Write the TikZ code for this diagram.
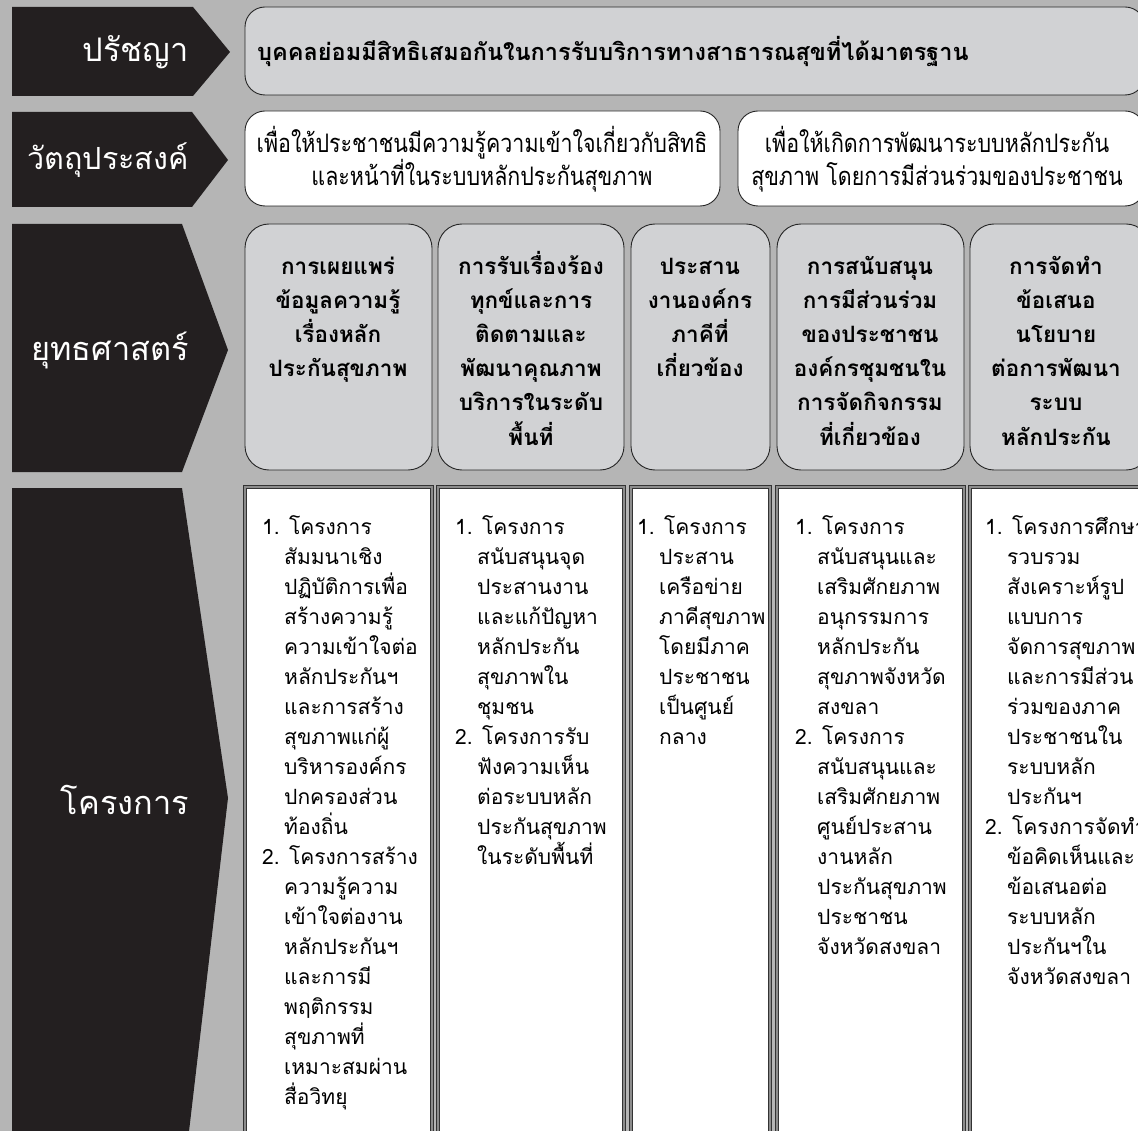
\documentclass[tikz,border=0pt]{standalone}
\usepackage{fontspec}
\setmainfont[Script=Thai]{Loma}
\newfontfamily\narrowthai[Script=Thai,FakeStretch=0.84]{Loma}
\usetikzlibrary{positioning}

\definecolor{tagblack}{HTML}{231F20}
\definecolor{paper}{HTML}{B5B5B5}
\definecolor{panelgray}{HTML}{D1D2D4}
\definecolor{edgegray}{HTML}{8C8C8C}

\newcommand{\projgap}{\hspace*{22pt}}
\newcommand{\headstrut}{\rule{0pt}{24pt}}
\newcommand{\fixedlines}{\lineskiplimit=-100pt\relax\lineskip=0pt\relax}

\tikzset{
    tagshape/.style={fill=tagblack},
    tagtext/.style={text=white, anchor=east, inner sep=0pt, font=\fontsize{32.5}{36}\selectfont},
    headbox/.style={draw=black!85, line width=0.9pt, rounded corners=20pt},
    stratbox/.style={draw=black!85, line width=0.9pt, fill=panelgray, rounded corners=24pt},
    projcol/.style={draw=black!80, line width=0.45pt, double=edgegray, double distance=2.6pt, fill=white},
    aimtext/.style={align=center, inner sep=0pt, font=\narrowthai\fontsize{25.5}{33}\selectfont\fixedlines},
    headtext/.style={align=center, anchor=north, inner sep=0pt, font=\bfseries\fontsize{22.5}{34.2}\selectfont\fixedlines},
    listtext/.style={align=left, anchor=north west, inner sep=0pt, font=\fontsize{21}{30}\selectfont\fixedlines}
}

\begin{document}
\begin{tikzpicture}[x=1pt, y=-1pt]
    \useasboundingbox (0,0) rectangle (1138,1131);
    \clip (0,0) rectangle (1138,1131);
    \fill[paper] (0,0) rectangle (1138,1131);

    % black row tags
    \fill[tagshape] (12,7) -- (193,7) -- (230,52) -- (193,96) -- (12,96) -- cycle;
    \fill[tagshape] (12,112) -- (192,112) -- (228,160) -- (192,207) -- (12,207) -- cycle;
    \fill[tagshape] (12,224) -- (182,224) -- (228,350) -- (182,472) -- (12,472) -- cycle;
    \fill[tagshape] (12,488) -- (182,488) -- (228,798) -- (188,1140) -- (12,1140) -- cycle;

    \node[tagtext] (tagphil) at (189,52) {ปรัชญา};
    \node[tagtext, font=\fontsize{30.5}{34}\selectfont] (tagaim) at (189,160) {วัตถุประสงค์};
    \node[tagtext] (tagstrat) at (189,350) {ยุทธศาสตร์};
    \node[tagtext] (tagproj) at (189,800) {โครงการ};

    % philosophy
    \draw[headbox, fill=panelgray] (245,7) rectangle (1145,95);
    \node[anchor=west, inner sep=0pt, font=\bfseries\fontsize{23.5}{26}\selectfont] (philtext) at (257,52)
        {บุคคลย่อมมีสิทธิเสมอกันในการรับบริการทางสาธารณสุขที่ได้มาตรฐาน};

    % objectives
    \draw[headbox, fill=white] (245,111) rectangle (720,206);
    \draw[headbox, fill=white] (738,111) rectangle (1145,206);
    \node[aimtext] (aimone) at (482,159) {เพื่อให้ประชาชนมีความรู้ความเข้าใจเกี่ยวกับสิทธิ\\และหน้าที่ในระบบหลักประกันสุขภาพ};
    \node[aimtext] (aimtwo) at (937,159) {เพื่อให้เกิดการพัฒนาระบบหลักประกัน\\สุขภาพ โดยการมีส่วนร่วมของประชาชน};

    % strategies
    \draw[stratbox] (245,224) rectangle (432,470);
    \draw[stratbox] (438,224) rectangle (624,470);
    \draw[stratbox] (631,224) rectangle (770,470);
    \draw[stratbox] (777,224) rectangle (964,470);
    \draw[stratbox] (970,224) rectangle (1150,470);

    \node[headtext] (stratone) at (338,250) {\headstrut การเผยแพร่\\ข้อมูลความรู้\\เรื่องหลัก\\ประกันสุขภาพ};
    \node[headtext] (strattwo) at (531,250) {\headstrut การรับเรื่องร้อง\\ทุกข์และการ\\ติดตามและ\\พัฒนาคุณภาพ\\บริการในระดับ\\พื้นที่};
    \node[headtext] (stratthree) at (700,250) {\headstrut ประสาน\\งานองค์กร\\ภาคีที่\\เกี่ยวข้อง};
    \node[headtext] (stratfour) at (870,250) {\headstrut การสนับสนุน\\การมีส่วนร่วม\\ของประชาชน\\องค์กรชุมชนใน\\การจัดกิจกรรม\\ที่เกี่ยวข้อง};
    \node[headtext] (stratfive) at (1056,250) {\headstrut การจัดทำ\\ข้อเสนอ\\นโยบาย\\ต่อการพัฒนา\\ระบบ\\หลักประกัน};

    % projects
    \draw[projcol] (245,487) rectangle (432,1145);
    \draw[projcol] (438,487) rectangle (624,1145);
    \draw[projcol] (631,487) rectangle (770,1145);
    \draw[projcol] (777,487) rectangle (964,1145);
    \draw[projcol] (970,487) rectangle (1150,1145);

    \node[listtext] (projone) at (262,515) {1. โครงการ\\\projgap สัมมนาเชิง\\\projgap ปฏิบัติการเพื่อ\\\projgap สร้างความรู้\\\projgap ความเข้าใจต่อ\\\projgap หลักประกันฯ\\\projgap และการสร้าง\\\projgap สุขภาพแก่ผู้\\\projgap บริหารองค์กร\\\projgap ปกครองส่วน\\\projgap ท้องถิ่น\\2. โครงการสร้าง\\\projgap ความรู้ความ\\\projgap เข้าใจต่องาน\\\projgap หลักประกันฯ\\\projgap และการมี\\\projgap พฤติกรรม\\\projgap สุขภาพที่\\\projgap เหมาะสมผ่าน\\\projgap สื่อวิทยุ};
    \node[listtext] (projtwo) at (455,515) {1. โครงการ\\\projgap สนับสนุนจุด\\\projgap ประสานงาน\\\projgap และแก้ปัญหา\\\projgap หลักประกัน\\\projgap สุขภาพใน\\\projgap ชุมชน\\2. โครงการรับ\\\projgap ฟังความเห็น\\\projgap ต่อระบบหลัก\\\projgap ประกันสุขภาพ\\\projgap ในระดับพื้นที่};
    \node[listtext] (projthree) at (637,515) {1. โครงการ\\\projgap ประสาน\\\projgap เครือข่าย\\\projgap ภาคีสุขภาพ\\\projgap โดยมีภาค\\\projgap ประชาชน\\\projgap เป็นศูนย์\\\projgap กลาง};
    \node[listtext] (projfour) at (795,515) {1. โครงการ\\\projgap สนับสนุนและ\\\projgap เสริมศักยภาพ\\\projgap อนุกรรมการ\\\projgap หลักประกัน\\\projgap สุขภาพจังหวัด\\\projgap สงขลา\\2. โครงการ\\\projgap สนับสนุนและ\\\projgap เสริมศักยภาพ\\\projgap ศูนย์ประสาน\\\projgap งานหลัก\\\projgap ประกันสุขภาพ\\\projgap ประชาชน\\\projgap จังหวัดสงขลา};
    \node[listtext] (projfive) at (985,515) {1. โครงการศึกษา\\\projgap รวบรวม\\\projgap สังเคราะห์รูป\\\projgap แบบการ\\\projgap จัดการสุขภาพ\\\projgap และการมีส่วน\\\projgap ร่วมของภาค\\\projgap ประชาชนใน\\\projgap ระบบหลัก\\\projgap ประกันฯ\\2. โครงการจัดทำ\\\projgap ข้อคิดเห็นและ\\\projgap ข้อเสนอต่อ\\\projgap ระบบหลัก\\\projgap ประกันฯใน\\\projgap จังหวัดสงขลา};
\end{tikzpicture}
\end{document}
